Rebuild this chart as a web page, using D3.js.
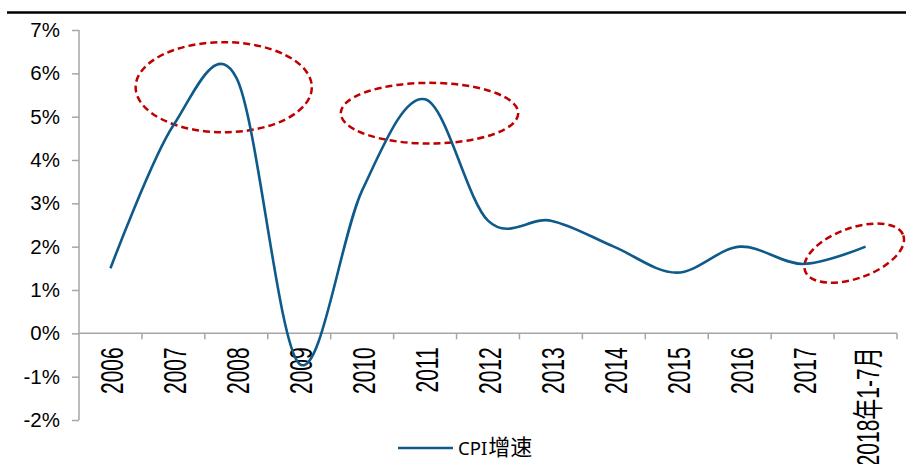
<!DOCTYPE html>
<html>
<head>
<meta charset="utf-8">
<script src="https://cdn.jsdelivr.net/npm/d3@7"></script>
<style>
  html, body { margin: 0; padding: 0; background: #fff; }
  svg { display: block; }
</style>
</head>
<body>
<svg id="chart" width="906" height="464"></svg>
<script>
// CPI growth by year
const categories = ["2006", "2007", "2008", "2009", "2010", "2011", "2012",
                    "2013", "2014", "2015", "2016", "2017", "2018年1-7月"];
const cpiGrowth = [1.5, 4.8, 5.9, -0.7, 3.3, 5.4, 2.6, 2.6, 2.0, 1.4, 2.0, 1.6, 2.0];
const yTickValues = [-2, -1, 0, 1, 2, 3, 4, 5, 6, 7];
const seriesName = "CPI增速";

// Highlight rings: centre as (category position, value), radii in category widths / percentage points
const highlights = [
  { cat: 1.80, value: 5.68, rCat: 1.40, rVal: 1.04, angle: 0 },
  { cat: 5.07, value: 5.08, rCat: 1.41, rVal: 0.70, angle: 0 },
  { cat: 11.82, value: 1.85, rCat: 0.83, rVal: 0.58, angle: -20 }
];

const svg = d3.select("#chart");
const W = 906, H = 464;
const plotLeft = 79, plotRight = 897, plotTop = 30, plotBottom = 420;

const x = d3.scaleBand().domain(categories).range([plotLeft, plotRight]).padding(0);
const y = d3.scaleLinear().domain([-2, 7]).range([plotBottom, plotTop]);
const cx = c => x(c) + x.bandwidth() / 2;

const axisColor = "#A6A6A6";
const lineColor = "#0E5A8A";
const ringColor = "#C00000";

// rule across the top
svg.append("line")
  .attr("x1", 7).attr("x2", W).attr("y1", 12.5).attr("y2", 12.5)
  .attr("stroke", "#000").attr("stroke-width", 2.5);

// y axis
const yAxis = svg.append("g")
  .attr("transform", `translate(${plotLeft},0)`)
  .call(d3.axisLeft(y).tickValues(yTickValues).tickSize(7).tickPadding(12)
    .tickFormat(d => d + "%"));
yAxis.select(".domain").attr("stroke", axisColor).attr("stroke-width", 1.5)
  .attr("d", `M0,${plotTop}V${plotBottom}`);
yAxis.selectAll(".tick line").attr("stroke", axisColor).attr("stroke-width", 1.5);
yAxis.selectAll(".tick text")
  .attr("fill", "#000")
  .style("font-family", "'Liberation Sans', Arial, sans-serif")
  .style("font-size", "20.5px");

// x axis along the zero line, ticks at category boundaries
const y0 = y(0);
const xAxis = svg.append("g");
xAxis.append("line")
  .attr("x1", plotLeft).attr("x2", plotRight).attr("y1", y0).attr("y2", y0)
  .attr("stroke", axisColor).attr("stroke-width", 1.5);
const boundaries = categories.map(c => x(c)).concat([plotRight]);
xAxis.selectAll("line.tick").data(boundaries.slice(1)).join("line")
  .attr("class", "tick")
  .attr("x1", d => d).attr("x2", d => d)
  .attr("y1", y0).attr("y2", y0 + 6)
  .attr("stroke", axisColor).attr("stroke-width", 1.5);

xAxis.selectAll("text").data(categories).join("text")
  .attr("transform", d => `translate(${cx(d) + 2},${y0 + 14}) rotate(-90) scale(1,1.45)`)
  .attr("text-anchor", "end")
  .attr("dy", "0.36em")
  .style("font-family", "'Liberation Sans', Arial, 'Noto Sans CJK SC', sans-serif")
  .style("font-size", "21px")
  .attr("fill", "#000")
  .text(d => d);

// highlight rings
svg.append("g").selectAll("ellipse").data(highlights).join("ellipse")
  .attr("transform", d => {
    const px = x(categories[0]) + x.bandwidth() * (d.cat + 0.5);
    return `translate(${px},${y(d.value)}) rotate(${d.angle})`;
  })
  .attr("rx", d => d.rCat * x.bandwidth())
  .attr("ry", d => y(0) - y(d.rVal))
  .attr("fill", "none")
  .attr("stroke", ringColor)
  .attr("stroke-width", 2.5)
  .attr("stroke-dasharray", "7,4");

// CPI line
const line = d3.line()
  .x((d, i) => cx(categories[i]))
  .y(d => y(d))
  .curve(d3.curveCardinal.tension(0));
svg.append("path")
  .datum(cpiGrowth)
  .attr("d", line)
  .attr("fill", "none")
  .attr("stroke", lineColor)
  .attr("stroke-width", 2.6)
  .attr("stroke-linejoin", "round")
  .attr("stroke-linecap", "butt");

// legend
const lg = svg.append("g");
lg.append("line")
  .attr("x1", 398).attr("x2", 453).attr("y1", 448).attr("y2", 448)
  .attr("stroke", lineColor).attr("stroke-width", 2.6);
const lt = lg.append("text")
  .attr("x", 458).attr("y", 455)
  .attr("fill", "#000");
lt.append("tspan")
  .style("font-family", "'Noto Sans', 'Liberation Sans', sans-serif")
  .style("font-size", "18.5px")
  .text(seriesName.slice(0, 3));
lt.append("tspan")
  .style("font-family", "'Noto Sans CJK SC', sans-serif")
  .style("font-size", "22px")
  .attr("dx", 1)
  .text(seriesName.slice(3));
</script>
</body>
</html>
